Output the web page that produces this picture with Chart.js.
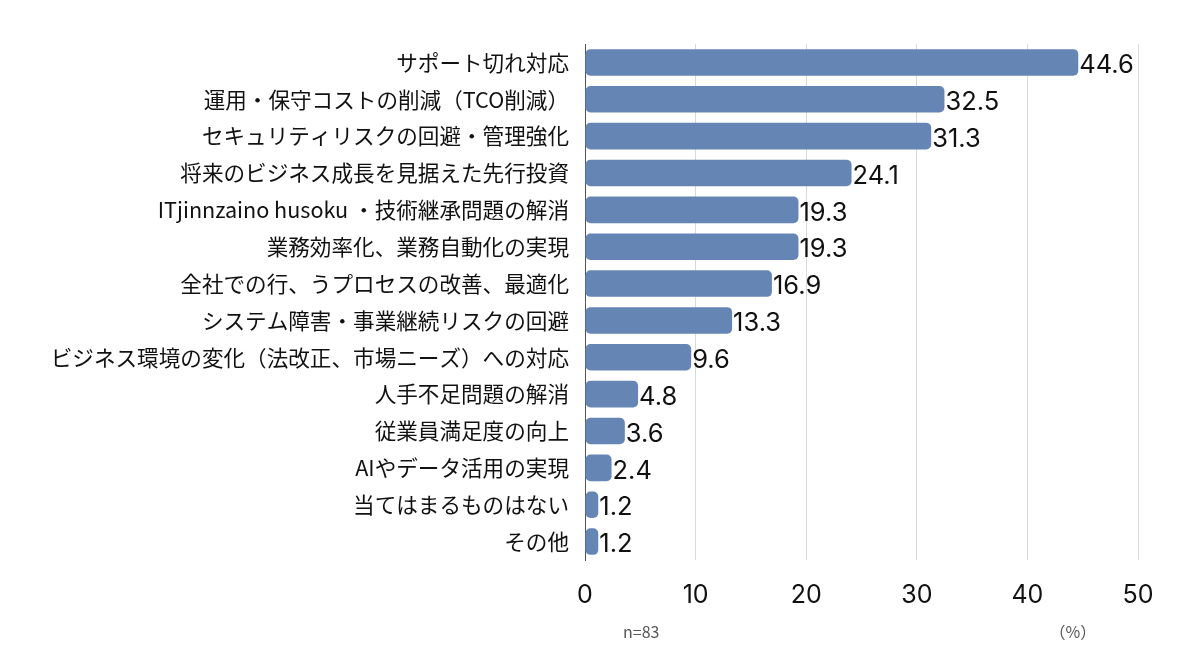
<!DOCTYPE html>
<html lang="ja">
<head>
  <meta charset="UTF-8">
  <title>導入理由</title>
  <script src="https://cdn.jsdelivr.net/npm/chart.js"></script>
  <style>
    html, body {
      margin: 0;
      padding: 0;
      background: #ffffff;
    }
    .chart-wrap {
      position: relative;
      width: 1200px;
      height: 658px;
    }
  </style>
</head>
<body>
  <div class="chart-wrap">
    <canvas id="reason-chart"></canvas>
  </div>

  <script>
    // Data
    const categories = [
      'サポート切れ対応',
      '運用・保守コストの削減（TCO削減）',
      'セキュリティリスクの回避・管理強化',
      '将来のビジネス成長を見据えた先行投資',
      'ITjinnzaino husoku ・技術継承問題の解消',
      '業務効率化、業務自動化の実現',
      '全社での行、うプロセスの改善、最適化',
      'システム障害・事業継続リスクの回避',
      'ビジネス環境の変化（法改正、市場ニーズ）への対応',
      '人手不足問題の解消',
      '従業員満足度の向上',
      'AIやデータ活用の実現',
      '当てはまるものはない',
      'その他'
    ];
    const percentValues = [44.6, 32.5, 31.3, 24.1, 19.3, 19.3, 16.9, 13.3, 9.6, 4.8, 3.6, 2.4, 1.2, 1.2];
    const xTicks = [0, 10, 20, 30, 40, 50];
    const sampleNote = 'n=83';
    const unitNote = '（%）';

    const fontFamily = '"Noto Sans CJK JP", "Noto Sans", sans-serif';
    const numFamily = 'Inter, "Noto Sans", sans-serif';
    const barColor = '#6585b4';

    // Value labels at the end of each bar + footer notes
    const valueLabels = {
      id: 'valueLabels',
      afterDatasetsDraw(chart) {
        const ctx = chart.ctx;
        const meta = chart.getDatasetMeta(0);
        ctx.save();
        ctx.fillStyle = '#111111';
        ctx.font = '25.5px ' + numFamily;
        ctx.textAlign = 'left';
        ctx.textBaseline = 'middle';
        meta.data.forEach((bar, i) => {
          ctx.fillText(percentValues[i].toFixed(1), bar.x + 1, bar.y + 3);
        });
        // footer notes
        const xs = chart.scales.x;
        ctx.font = '16px ' + fontFamily;
        ctx.fillStyle = '#555555';
        ctx.textAlign = 'left';
        ctx.fillText(sampleNote, xs.getPixelForValue(0) + 38, 632);
        ctx.fillText(unitNote, xs.getPixelForValue(40) + 22, 632);
        ctx.restore();
      }
    };

    const ctx = document.getElementById('reason-chart').getContext('2d');
    new Chart(ctx, {
      type: 'bar',
      data: {
        labels: categories,
        datasets: [{
          data: percentValues,
          backgroundColor: barColor,
          borderRadius: 5,
          borderSkipped: false,
          barPercentage: 0.72,
          categoryPercentage: 1.0
        }]
      },
      options: {
        indexAxis: 'y',
        responsive: true,
        maintainAspectRatio: false,
        animation: false,
        layout: {
          padding: { top: 44, right: 62, bottom: 0, left: 0 }
        },
        plugins: {
          legend: { display: false },
          tooltip: { enabled: false }
        },
        scales: {
          x: {
            min: 0,
            max: 50,
            afterBuildTicks(scale) {
              scale.ticks = xTicks.map(v => ({ value: v }));
            },
            afterFit(scale) {
              scale.height = 98;
            },
            grid: {
              color: '#d9d9d9',
              drawTicks: false
            },
            border: { display: false },
            ticks: {
              color: '#111111',
              padding: 20,
              font: { family: numFamily, size: 25 }
            }
          },
          y: {
            afterFit(scale) {
              scale.width = 585;
            },
            grid: { display: false, drawTicks: false },
            border: { display: true, color: '#555555', width: 1 },
            ticks: {
              color: '#111111',
              padding: 16,
              autoSkip: false,
              font: { family: fontFamily, size: 21.6 }
            }
          }
        }
      },
      plugins: [valueLabels]
    });
  </script>
</body>
</html>
